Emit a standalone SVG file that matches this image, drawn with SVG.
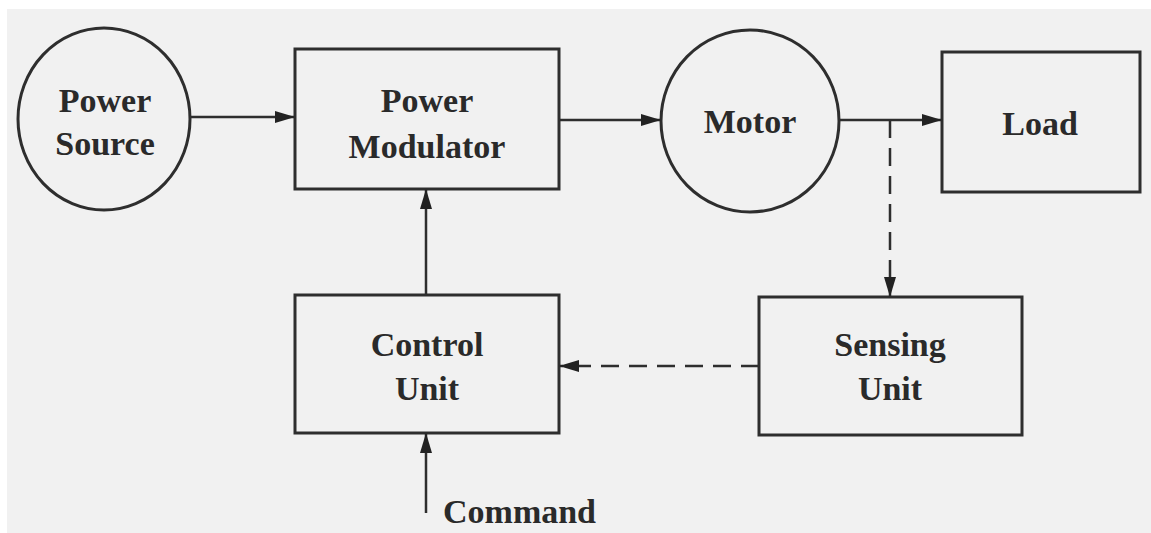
<svg xmlns="http://www.w3.org/2000/svg" width="1151" height="533" viewBox="0 0 1151 533">
<style>
.shape{fill:none;stroke:#2e2e2e;stroke-width:3}
.lbl{font-family:"Liberation Serif","Times New Roman",serif;font-size:34px;font-weight:bold;fill:#2a2a2a;text-anchor:middle}
.cmd{font-family:"Liberation Serif","Times New Roman",serif;font-size:34px;font-weight:bold;fill:#2a2a2a}
.ln{fill:none;stroke:#2e2e2e;stroke-width:2.5}
.dash{stroke-dasharray:18 10}
</style>
<defs>
<marker id="ah" viewBox="0 0 20 14" refX="20" refY="7" markerWidth="20" markerHeight="14" markerUnits="userSpaceOnUse" orient="auto">
<path d="M0,1 L20,7 L0,13 Z" fill="#222"/>
</marker>
</defs>
<rect x="0" y="0" width="1151" height="533" fill="#ffffff"/>
<rect x="7" y="9" width="1144" height="524" fill="#f1f1f1"/>
<g id="power-source">
<ellipse class="shape" cx="104" cy="119" rx="86" ry="91"/>
<text class="lbl" x="105" y="112">Power</text>
<text class="lbl" x="105" y="155">Source</text>
</g>
<g id="power-modulator">
<rect class="shape" x="295" y="49" width="264" height="140"/>
<text class="lbl" x="427" y="112">Power</text>
<text class="lbl" x="427" y="158">Modulator</text>
</g>
<g id="motor">
<ellipse class="shape" cx="750" cy="121" rx="89" ry="91"/>
<text class="lbl" x="750" y="133">Motor</text>
</g>
<g id="load">
<rect class="shape" x="942" y="52" width="198" height="140"/>
<text class="lbl" x="1040" y="135">Load</text>
</g>
<g id="control-unit">
<rect class="shape" x="295" y="295" width="264" height="138"/>
<text class="lbl" x="427" y="356">Control</text>
<text class="lbl" x="427" y="400">Unit</text>
</g>
<g id="sensing-unit">
<rect class="shape" x="759" y="297" width="263" height="138"/>
<text class="lbl" x="890" y="356">Sensing</text>
<text class="lbl" x="890" y="400">Unit</text>
</g>
<g id="command">
<text class="cmd" x="443" y="523">Command</text>
</g>
<g id="connectors">
<line class="ln" x1="190" y1="117" x2="295" y2="117" marker-end="url(#ah)"/>
<line class="ln" x1="559" y1="120" x2="661" y2="120" marker-end="url(#ah)"/>
<line class="ln" x1="839" y1="120" x2="942" y2="120" marker-end="url(#ah)"/>
<line class="ln dash" x1="890" y1="120" x2="890" y2="297" marker-end="url(#ah)"/>
<line class="ln dash" x1="759" y1="366" x2="559" y2="366" marker-end="url(#ah)"/>
<line class="ln" x1="426" y1="295" x2="426" y2="189" marker-end="url(#ah)"/>
<line class="ln" x1="426" y1="513" x2="426" y2="433" marker-end="url(#ah)"/>
</g>
</svg>
